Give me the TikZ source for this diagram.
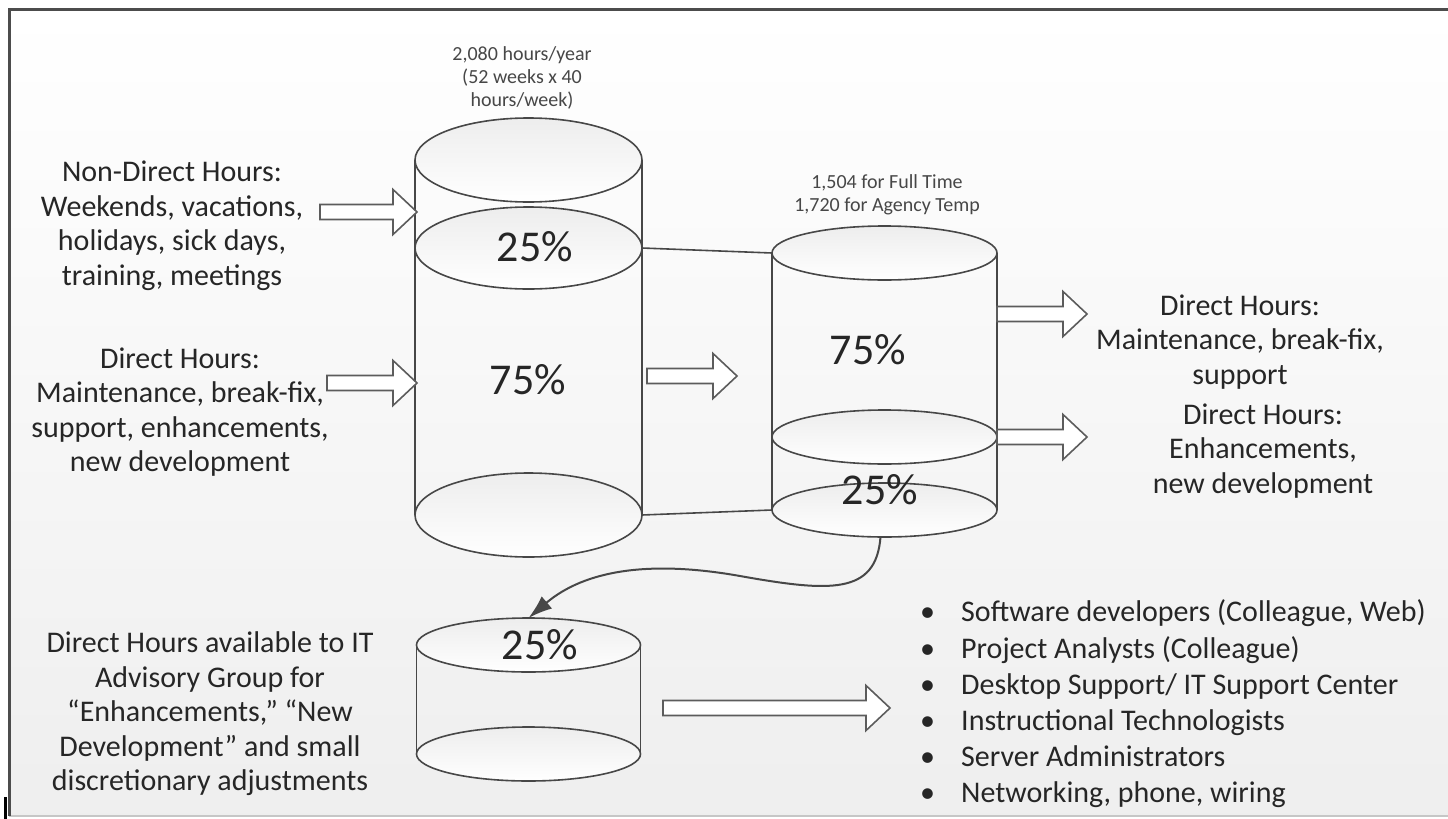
\documentclass[tikz,border=0pt]{standalone}
\usepackage{fontspec}
\setmainfont{Carlito}
\usetikzlibrary{shapes.geometric,arrows.meta}
\definecolor{ink}{HTML}{262626}
\definecolor{edge}{HTML}{474747}
\definecolor{arredge}{HTML}{5C5C5C}

% hollow block arrow: tail x, centre y, tip x
\newcommand\blockarrow[3]{%
  \draw[barrow] (#1,#2-7.5) -- (#3-24,#2-7.5) -- (#3-24,#2-22.5) -- (#3,#2)
    -- (#3-24,#2+22.5) -- (#3-24,#2+7.5) -- (#1,#2+7.5) -- cycle;}

\begin{document}
\begin{tikzpicture}[x=1pt,y=-1pt,
  disc/.style={ellipse, draw=edge, line width=1.6pt, top color=gray!14,
    bottom color=white, inner sep=0pt, outer sep=0pt},
  bigdisc/.style={disc, minimum width=227pt, minimum height=84pt},
  flatdisc/.style={disc, minimum width=225pt, minimum height=54pt},
  side/.style={draw=edge, line width=1.6pt},
  barrow/.style={draw=arredge, fill=white, line width=1.6pt, line join=miter},
  lbl/.style={text=ink, align=center, font=\fontsize{30}{34.5}\selectfont, inner sep=0pt},
  note/.style={text=ink!85, align=center, font=\fontsize{20}{23}\selectfont, inner sep=0pt},
  pct/.style={text=ink, font=\fontsize{44}{50}\selectfont, inner sep=0pt},
]
\useasboundingbox (0,0) rectangle (1448,819);

% page background and frame
\fill[white] (0,0) rectangle (1448,819);
\fill[top color=white, bottom color=gray!13] (9,9) rectangle (1448,816);
\draw[gray!45, line width=2pt] (9,816) -- (1448,816);
\draw[gray!60!black, line width=3pt] (9,816) -- (9,9) -- (1448,9);
\draw[black, line width=3pt] (5,797) -- (5,819);

% captions above the cylinders
\node[note] (total) at (522,78) {2,080 hours/year\\(52 weeks x 40\\hours/week)};
\node[note] (avail) at (887,195) {1,504 for Full Time\\1,720 for Agency Temp};

% cylinder nodes
\node[bigdisc] (atop) at (528.5,160) {};
\node[bigdisc, minimum height=82pt] (aband) at (528.5,248) {};
\node[bigdisc] (abot) at (528.5,515) {};
\node[flatdisc] (btop) at (884.5,253) {};
\node[flatdisc] (bmid) at (884.5,437) {};
\node[flatdisc] (bbot) at (884.5,510) {};
\node[flatdisc, minimum width=224pt] (ctop) at (528.5,645) {};
\node[flatdisc, minimum width=224pt] (cbot) at (528.5,754) {};

% cylinder walls
\draw[side] (atop.west) -- (abot.west);
\draw[side] (atop.east) -- (abot.east);
\draw[side] (btop.west) -- (bbot.west);
\draw[side] (btop.east) -- (bbot.east);
\draw[side] (ctop.west) -- (cbot.west);
\draw[side] (ctop.east) -- (cbot.east);

% links between the two upper cylinders
\draw[side] (aband.east) -- (btop.west);
\draw[side] (abot.east) -- (bbot.west);

% percentages
\node[pct] (p1) at (535,247) {25\%};
\node[pct] (p2) at (528,380) {75\%};
\node[pct] (p3) at (868,350) {75\%};
\node[pct] (p4) at (880,490) {25\%};
\node[pct] (p5) at (540,645) {25\%};

% curved transfer arrow
\draw[edge, line width=2pt, -{Latex[length=24pt,width=16pt]}]
  ([xshift=-4pt]bbot.south) .. controls (876,595) and (830,592) .. (740,576)
  .. controls (650,560) and (585,570) .. (ctop.north);

% block arrows
\blockarrow{320}{212}{417}
\blockarrow{327}{383}{417}
\blockarrow{647}{376}{737}
\blockarrow{997}{314}{1087}
\blockarrow{997}{437}{1087}
\blockarrow{663}{708}{890}

% labels
\node[lbl] (nondirect) at (172,226) {Non-Direct Hours:\\Weekends, vacations,\\holidays, sick days,\\training, meetings};
\node[lbl] (direct) at (180,412) {Direct Hours:\\Maintenance, break-fix,\\support, enhancements,\\new development};
\node[lbl] (maint) at (1240,342) {Direct Hours:\\Maintenance, break-fix,\\support};
\node[lbl] (enh) at (1263,451) {Direct Hours:\\Enhancements,\\new development};
\node[lbl] (advisory) at (210,714) {Direct Hours available to IT\\Advisory Group for\\“Enhancements,” “New\\Development” and small\\discretionary adjustments};

\node[lbl, align=left, anchor=west, font=\fontsize{30}{36.2}\selectfont] (staff) at (920,704) {%
\makebox[41pt][l]{•}Software developers (Colleague, Web)\\
\makebox[41pt][l]{•}Project Analysts (Colleague)\\
\makebox[41pt][l]{•}Desktop Support/ IT Support Center\\
\makebox[41pt][l]{•}Instructional Technologists\\
\makebox[41pt][l]{•}Server Administrators\\
\makebox[41pt][l]{•}Networking, phone, wiring};
\end{tikzpicture}
\end{document}
